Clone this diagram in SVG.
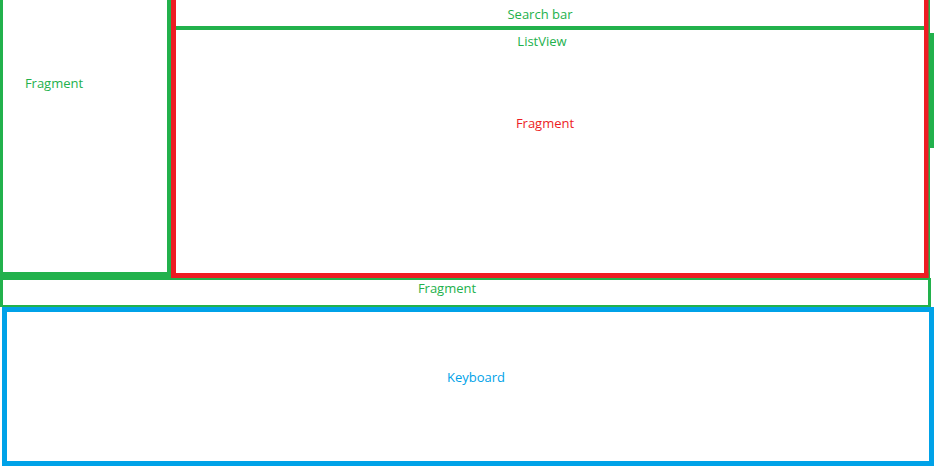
<svg xmlns="http://www.w3.org/2000/svg" width="934" height="466" viewBox="0 0 934 466">
<style>
.g{fill:#22b14c}
.r{fill:#ed1c24}
.b{fill:#00a2e8}
text{font-family:"Open Sans","Noto Sans",sans-serif;font-size:13px;text-anchor:middle}
.tg{fill:#22b14c}.tr{fill:#ed1c24}.tb{fill:#00a2e8}
</style>
<rect width="934" height="466" fill="#ffffff"/>
<g id="left-fragment">
<rect class="g" x="0" y="0" width="3" height="279"/>
<rect class="g" x="167" y="0" width="4" height="279"/>
<rect class="g" x="0" y="272" width="171" height="7"/>
<text class="tg" x="54" y="88">Fragment</text>
</g>
<g id="listview">
<rect class="g" x="928" y="0" width="2" height="306"/>
<rect class="g" x="930" y="33" width="4" height="115"/>
<text class="tg" x="542" y="46">ListView</text>
</g>
<g id="search-bar">
<rect class="g" x="176" y="26" width="748" height="4"/>
<text class="tg" x="540" y="19">Search bar</text>
</g>
<g id="red-fragment">
<rect class="r" x="171" y="0" width="5" height="278"/>
<rect class="r" x="924" y="0" width="4.5" height="278"/>
<rect class="r" x="171" y="273" width="757.5" height="5"/>
<text class="tr" x="545" y="128">Fragment</text>
</g>
<g id="bottom-fragment">
<rect class="g" x="0" y="278" width="3" height="29"/>
<rect class="g" x="0" y="278" width="930" height="2"/>
<rect class="g" x="0" y="305" width="930" height="2"/>
<rect class="g" x="928" y="278" width="3" height="29"/>
<text class="tg" x="447" y="293">Fragment</text>
</g>
<g id="keyboard">
<rect x="4.5" y="309.5" width="927" height="154" fill="none" stroke="#00a2e8" stroke-width="5"/>
<text class="tb" x="476" y="382">Keyboard</text>
</g>
<g id="connectors"/>
</svg>
